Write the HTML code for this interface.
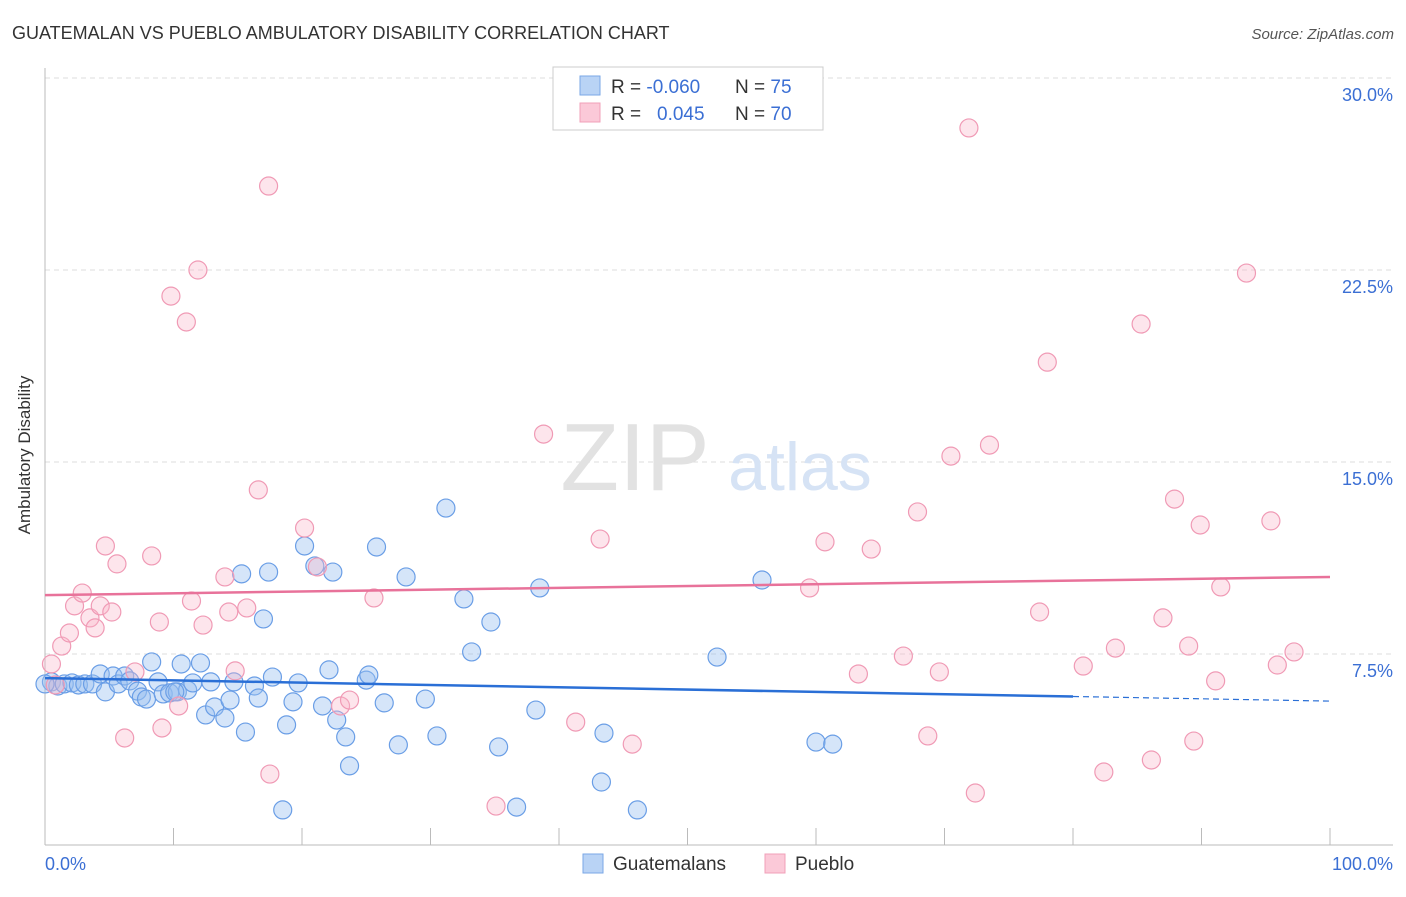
<!DOCTYPE html>
<html><head><meta charset="utf-8"><style>
body{margin:0;background:#fff;font-family:"Liberation Sans",sans-serif;}
svg text{font-family:"Liberation Sans",sans-serif;}
</style></head><body>
<svg width="1406" height="892" viewBox="0 0 1406 892">
<text x="12" y="39" font-size="18" fill="#333">GUATEMALAN VS PUEBLO AMBULATORY DISABILITY CORRELATION CHART</text>
<text x="1394" y="39" font-size="15" fill="#555" font-style="italic" text-anchor="end">Source: ZipAtlas.com</text>
<g id="grid"></g>
<text x="635" y="490" font-size="96" fill="#e2e2e2" font-family="Liberation Serif" text-anchor="middle">ZIP</text>
<text x="800" y="490" font-size="68" fill="#d6e3f5" text-anchor="middle">atlas</text>
<line x1="45" y1="68" x2="45" y2="845" stroke="#bbb"/>
<line x1="45" y1="845" x2="1393" y2="845" stroke="#bbb"/>
<g id="ticks"></g>
<text x="30" y="455" font-size="17" fill="#333" text-anchor="middle" transform="rotate(-90 30 455)">Ambulatory Disability</text>
<text x="45" y="870" font-size="18" fill="#3b6fd4">0.0%</text>
<text x="1393" y="870" font-size="18" fill="#3b6fd4" text-anchor="end">100.0%</text>
<g id="pts"></g>
<g id="trends"></g>
<g>
<rect x="553" y="67" width="270" height="63" fill="#fff" stroke="#ccc"/>
<rect x="580" y="76" width="20" height="19" fill="#b9d3f5" stroke="#7aa7e6"/>
<rect x="580" y="103" width="20" height="19" fill="#fbc9d8" stroke="#f0a0b9"/>
<text x="611" y="93" font-size="19" fill="#333">R = <tspan fill="#3b6fd4">-0.060</tspan><tspan x="735">N = </tspan><tspan fill="#3b6fd4">75</tspan></text>
<text x="611" y="120" font-size="19" fill="#333">R = <tspan x="657" fill="#3b6fd4">0.045</tspan><tspan x="735">N = </tspan><tspan fill="#3b6fd4">70</tspan></text>
</g>
<g>
<rect x="583" y="854" width="20" height="19" fill="#b9d3f5" stroke="#7aa7e6"/>
<text x="613" y="870" font-size="19" fill="#333">Guatemalans</text>
<rect x="765" y="854" width="20" height="19" fill="#fbc9d8" stroke="#f0a0b9"/>
<text x="795" y="870" font-size="19" fill="#333">Pueblo</text>
</g>
</svg>
<script>
const yTicks=[7.5,15,22.5,30];
const yTickLabels=["7.5%","15.0%","22.5%","30.0%"];
const xTicks=[10,20,30,40,50,60,70,80,90,100];
const blueX=[0.5,1.0,1.5,2.1,2.6,3.1,3.7,4.3,4.7,5.3,5.7,6.2,6.6,7.2,7.5,7.9,8.3,8.8,9.2,9.7,10.3,10.6,11.1,11.5,12.1,12.5,12.9,13.2,14.0,14.4,14.7,15.6,16.3,16.6,15.3,17.4,17.0,17.7,18.5,18.8,19.3,19.7,20.2,21.0,21.6,22.1,22.4,22.7,23.4,23.7,25.0,25.2,25.8,26.4,27.5,28.1,29.6,30.5,32.6,31.2,33.2,34.7,35.3,36.7,38.2,38.5,43.3,43.5,46.1,52.3,55.8,60.0,61.3,10.1,0];
const blueY=[6.41,6.25,6.33,6.37,6.29,6.33,6.33,6.72,6.02,6.64,6.33,6.64,6.45,6.05,5.82,5.74,7.19,6.41,5.94,5.98,6.02,7.11,6.09,6.37,7.15,5.12,6.41,5.43,5.0,5.7,6.41,4.45,6.25,5.78,10.63,10.7,8.87,6.6,1.41,4.73,5.63,6.37,11.72,10.94,5.47,6.88,10.7,4.92,4.26,3.13,6.48,6.68,11.68,5.59,3.95,10.51,5.74,4.3,9.65,13.2,7.58,8.75,3.87,1.52,5.31,10.08,2.5,4.41,1.41,7.38,10.39,4.06,3.98,6.02,6.33];
const pinkX=[0.5,0.8,1.3,1.9,2.3,2.9,3.5,3.9,4.3,4.7,5.2,5.6,6.2,7.0,8.3,8.9,9.1,9.8,10.4,11.0,11.4,11.9,12.3,14.0,14.3,14.8,15.7,16.6,17.4,17.5,20.2,21.2,23.0,23.7,25.6,35.1,38.8,41.3,43.2,45.7,59.5,60.7,63.3,64.3,66.8,67.9,68.7,69.6,70.5,71.9,72.4,73.5,77.4,78.0,80.8,82.4,83.3,85.3,86.1,87.0,87.9,89.0,89.4,89.9,91.1,91.5,93.5,95.4,95.9,97.2];
const pinkY=[7.11,6.29,7.81,8.32,9.38,9.88,8.91,8.52,9.38,11.72,9.14,11.02,4.22,6.8,11.33,8.75,4.61,21.48,5.47,20.47,9.57,22.5,8.63,10.51,9.14,6.84,9.3,13.91,25.78,2.81,12.42,10.9,5.47,5.7,9.69,1.56,16.09,4.84,11.99,3.98,10.08,11.88,6.72,11.6,7.42,13.05,4.3,6.8,15.23,28.05,2.07,15.66,9.14,18.9,7.03,2.89,7.73,20.39,3.36,8.91,13.55,7.81,4.1,12.54,6.45,10.12,22.38,12.7,7.07,7.58];
const blueTrend=[6.56,5.66];
const pinkTrend=[9.8,10.51];
const X=v=>45+v*12.85, Y=v=>846-v*25.6;
const NS="http://www.w3.org/2000/svg";
function mk(tag,attrs,parent){const e=document.createElementNS(NS,tag);for(const k in attrs)e.setAttribute(k,attrs[k]);parent.appendChild(e);return e;}
const grid=document.getElementById('grid');
yTicks.forEach((t,i)=>{
 const l=mk('line',{x1:45,x2:1393,y1:Y(t),y2:Y(t),stroke:'#ddd','stroke-dasharray':'5,4'},grid);
 
 
 const tx=mk('text',{x:1393,y:Y(t)+23,'font-size':18,fill:'#3b6fd4','text-anchor':'end'},grid);
 tx.textContent=yTickLabels[i];
 
 
});
const tk=document.getElementById('ticks');
xTicks.forEach(t=>{
 const l=mk('line',{x1:X(t),x2:X(t),y1:828,y2:845,stroke:'#bbb'},tk);
 
 
});
const pts=document.getElementById('pts');
blueX.forEach((x,i)=>{
 const c=mk('circle',{cx:X(x),cy:Y(blueY[i]),r:9,fill:'rgba(150,190,240,0.4)',stroke:'#6a9ee6','stroke-width':1.2},pts);
 
 
});
pinkX.forEach((x,i)=>{
 const c=mk('circle',{cx:X(x),cy:Y(pinkY[i]),r:9,fill:'rgba(248,180,200,0.35)',stroke:'#f09ab5','stroke-width':1.2},pts);
 
 
});
const tr=document.getElementById('trends');
const bAt=v=>blueTrend[0]+(blueTrend[1]-blueTrend[0])*v/100;
let l1=mk('line',{x1:X(0),y1:Y(bAt(0)),x2:X(80),y2:Y(bAt(80)),stroke:'#2a6fd6','stroke-width':2.5},tr);


let l2=mk('line',{x1:X(80),y1:Y(bAt(80)),x2:X(100),y2:Y(bAt(100)),stroke:'#2a6fd6','stroke-width':1.2,'stroke-dasharray':'6,4'},tr);


let l3=mk('line',{x1:X(0),y1:Y(pinkTrend[0]),x2:X(100),y2:Y(pinkTrend[1]),stroke:'#e8729a','stroke-width':2.5},tr);


</script>
</body></html>
